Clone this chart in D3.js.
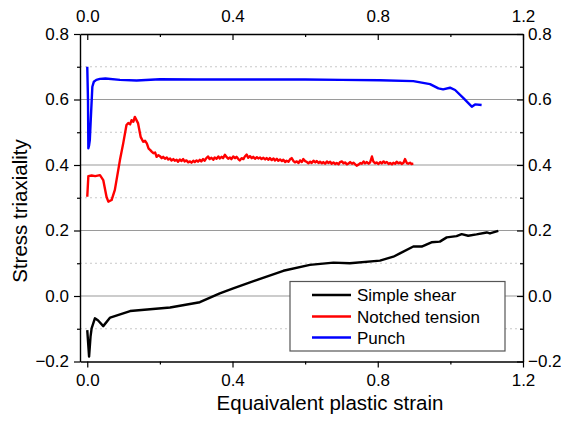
<!DOCTYPE html>
<html><head><meta charset="utf-8">
<script src="https://cdn.jsdelivr.net/npm/d3@7"></script>
<style>body{margin:0;background:#fff}svg{display:block}text{font-family:"Liberation Sans",Arial,sans-serif;fill:#000}</style>
</head><body><svg id="c" width="561" height="424"></svg>
<script>
const xTicks=[0,0.4,0.8,1.2];
const xMinor=[0.2,0.6,1.0];
const yTicks=[-0.2,0,0.2,0.4,0.6,0.8];
const yMinor=[-0.1,0.1,0.3,0.5,0.7];
const seriesNames=["Simple shear","Notched tension","Punch"];
const seriesColors=["#000000","#ff0000","#0000ff"];
const simpleShear=[[0,-0.104],[0.005,-0.185],[0.009,-0.124],[0.012,-0.099],[0.021,-0.068],[0.03,-0.075],[0.044,-0.092],[0.063,-0.066],[0.118,-0.046],[0.228,-0.035],[0.31,-0.019],[0.365,0.008],[0.402,0.023],[0.47,0.05],[0.54,0.077],[0.613,0.095],[0.678,0.102],[0.723,0.1],[0.806,0.108],[0.843,0.12],[0.861,0.13],[0.898,0.151],[0.921,0.151],[0.948,0.164],[0.971,0.166],[0.99,0.179],[1.017,0.183],[1.031,0.189],[1.049,0.184],[1.072,0.188],[1.1,0.194],[1.109,0.191],[1.118,0.194],[1.132,0.199]];
const notchedTension=[[0,0.303],[0.003,0.366],[0.012,0.368],[0.022,0.366],[0.035,0.369],[0.044,0.354],[0.053,0.303],[0.058,0.288],[0.067,0.293],[0.076,0.324],[0.09,0.415],[0.099,0.466],[0.108,0.522],[0.113,0.528],[0.118,0.524],[0.122,0.537],[0.127,0.532],[0.131,0.547],[0.14,0.527],[0.147,0.486],[0.154,0.471],[0.159,0.474],[0.164,0.466],[0.169,0.45],[0.173,0.446],[0.178,0.44],[0.182,0.436],[0.187,0.438],[0.191,0.425],[0.196,0.43],
[0.200,0.427],[0.205,0.421],[0.209,0.425],[0.214,0.419],[0.219,0.423],[0.223,0.417],[0.228,0.420],[0.232,0.414],[0.237,0.418],[0.241,0.413],[0.246,0.416],[0.250,0.410],[0.255,0.417],[0.259,0.412],[0.264,0.418],[0.268,0.411],[0.273,0.414],[0.278,0.408],[0.283,0.411],[0.287,0.407],[0.292,0.413],[0.296,0.409],[0.301,0.414],[0.305,0.410],[0.310,0.416],[0.314,0.411],[0.319,0.418],[0.323,0.413],[0.328,0.421],[0.333,0.426],[0.337,0.418],[0.342,0.422],[0.347,0.416],[0.351,0.423],[0.356,0.419],[0.361,0.426],[0.365,0.420],[0.370,0.425],[0.374,0.421],[0.379,0.431],[0.384,0.424],[0.388,0.419],[0.393,0.423],[0.397,0.418],[0.402,0.426],[0.407,0.421],[0.411,0.425],[0.416,0.418],[0.420,0.414],[0.425,0.421],[0.430,0.418],[0.434,0.426],[0.439,0.432],[0.443,0.422],[0.448,0.427],[0.453,0.421],[0.457,0.425],[0.462,0.419],[0.467,0.424],[0.471,0.420],[0.476,0.423],[0.480,0.418],[0.485,0.422],[0.490,0.417],[0.494,0.421],[0.499,0.416],[0.503,0.421],[0.508,0.415],[0.513,0.420],[0.517,0.414],[0.522,0.419],[0.526,0.413],[0.531,0.417],[0.536,0.412],[0.540,0.416],[0.545,0.409],[0.549,0.413],[0.554,0.410],[0.559,0.418],[0.563,0.421],[0.568,0.412],[0.572,0.408],[0.577,0.411],[0.582,0.406],[0.586,0.414],[0.591,0.409],[0.595,0.418],[0.600,0.412],[0.605,0.409],[0.609,0.405],[0.614,0.410],[0.618,0.406],[0.623,0.413],[0.628,0.408],[0.632,0.412],[0.637,0.406],[0.641,0.410],[0.646,0.405],[0.650,0.409],[0.655,0.404],[0.660,0.411],[0.664,0.406],[0.669,0.410],[0.673,0.404],[0.678,0.408],[0.683,0.403],[0.687,0.406],[0.692,0.402],[0.696,0.409],[0.701,0.411],[0.706,0.405],[0.710,0.408],[0.715,0.402],[0.719,0.404],[0.724,0.409],[0.729,0.404],[0.733,0.407],[0.738,0.402],[0.742,0.398],[0.747,0.401],[0.752,0.406],[0.756,0.404],[0.761,0.411],[0.765,0.405],[0.770,0.409],[0.775,0.404],[0.779,0.408],[0.784,0.426],[0.788,0.410],[0.793,0.405],[0.797,0.408],[0.802,0.403],[0.807,0.409],[0.811,0.405],[0.816,0.411],[0.820,0.406],[0.825,0.409],[0.830,0.403],[0.834,0.406],[0.839,0.402],[0.843,0.407],[0.848,0.404],[0.852,0.410],[0.857,0.405],[0.862,0.408],[0.866,0.403],[0.871,0.407],[0.875,0.418],[0.880,0.406],[0.884,0.404],[0.889,0.407],[0.893,0.403],[0.898,0.404]];
const punch=[[0,0.70],[0.002,0.60],[0.003,0.451],[0.005,0.46],[0.007,0.476],[0.010,0.547],[0.014,0.639],[0.018,0.654],[0.025,0.660],[0.035,0.663],[0.05,0.664],[0.09,0.660],[0.136,0.658],[0.2,0.662],[0.3,0.661],[0.4,0.661],[0.5,0.661],[0.6,0.661],[0.7,0.660],[0.806,0.659],[0.898,0.656],[0.944,0.647],[0.967,0.634],[0.98,0.631],[0.999,0.636],[1.013,0.629],[1.036,0.604],[1.059,0.578],[1.068,0.585],[1.086,0.583]];
const series=[simpleShear,notchedTension,punch];

const svg=d3.select("#c");
const L=80,R=523,T=34,B=361.5;
const x=d3.scaleLinear().domain([-0.02,1.2]).range([L,R]);
const y=d3.scaleLinear().domain([-0.2,0.8]).range([B,T]);
const fmt=d3.format(".1f");

// grid
svg.append("g").selectAll("line").data(yMinor).join("line")
 .attr("x1",L).attr("x2",R).attr("y1",d=>y(d)).attr("y2",d=>y(d))
 .attr("stroke","#c8c8c8").attr("stroke-width",1).attr("stroke-dasharray","2,3");
svg.append("g").selectAll("line").data(yTicks.filter(d=>d>-0.2&&d<0.8)).join("line")
 .attr("x1",L).attr("x2",R).attr("y1",d=>y(d)).attr("y2",d=>y(d))
 .attr("stroke","#9a9a9a").attr("stroke-width",1.2);

// curves
const line=d3.line().x(d=>x(d[0])).y(d=>y(d[1]));
series.forEach((s,i)=>{
 svg.append("path").attr("d",line(s)).attr("fill","none").attr("stroke",seriesColors[i])
  .attr("stroke-width",2.4).attr("stroke-linejoin","round");
});

// axes
function styleAxis(g){g.select(".domain").attr("stroke","#000").attr("stroke-width",1.4);
 g.selectAll(".tick line").attr("stroke","#000").attr("stroke-width",1.2);
 g.selectAll(".tick text").style("font-size","17px").style("font-family","'Liberation Sans',Arial,sans-serif");}
function minorTicks(axis,vals){return axis.tickValues(vals).tickFormat("").tickSizeOuter(0);}

const gb=svg.append("g").attr("transform",`translate(0,${B})`);
gb.call(d3.axisBottom(x).tickValues(xTicks).tickFormat(fmt).tickSize(6).tickSizeOuter(0).tickPadding(6));
gb.append("g").call(minorTicks(d3.axisBottom(x).tickSize(3),xMinor)).select(".domain").remove();
styleAxis(gb);
const gt=svg.append("g").attr("transform",`translate(0,${T})`);
gt.call(d3.axisTop(x).tickValues(xTicks).tickFormat(fmt).tickSize(-6).tickSizeOuter(0).tickPadding(12));
gt.append("g").call(minorTicks(d3.axisTop(x).tickSize(-3),xMinor)).select(".domain").remove();
styleAxis(gt);
const gl=svg.append("g").attr("transform",`translate(${L},0)`);
gl.call(d3.axisLeft(y).tickValues(yTicks).tickFormat(fmt).tickSize(6).tickSizeOuter(0).tickPadding(5));
gl.append("g").call(minorTicks(d3.axisLeft(y).tickSize(3),yMinor)).select(".domain").remove();
styleAxis(gl);
const gr=svg.append("g").attr("transform",`translate(${R},0)`);
gr.call(d3.axisRight(y).tickValues(yTicks).tickFormat(fmt).tickSize(-6).tickSizeOuter(0).tickPadding(5));
gr.append("g").call(minorTicks(d3.axisRight(y).tickSize(-3),yMinor)).select(".domain").remove();
styleAxis(gr);

// titles
svg.append("text").attr("x",330).attr("y",410).attr("text-anchor","middle").style("font-size","20.5px").text("Equaivalent plastic strain");
svg.append("text").attr("transform","translate(26.5,211) rotate(-90)").attr("text-anchor","middle").style("font-size","20.5px").text("Stress triaxiality");

// legend
const lg=svg.append("g");
lg.append("rect").attr("x",290).attr("y",281.5).attr("width",215).attr("height",69.5).attr("fill","#fff").attr("stroke","#555").attr("stroke-width",1.2);
const rows=[295,316.5,337.5];
seriesNames.forEach((n,i)=>{
 lg.append("line").attr("x1",312).attr("x2",351).attr("y1",rows[i]).attr("y2",rows[i]).attr("stroke",seriesColors[i]).attr("stroke-width",2.4);
 lg.append("text").attr("x",357).attr("y",rows[i]).attr("dy","0.36em").style("font-size","17px").text(n);
});
</script></body></html>
